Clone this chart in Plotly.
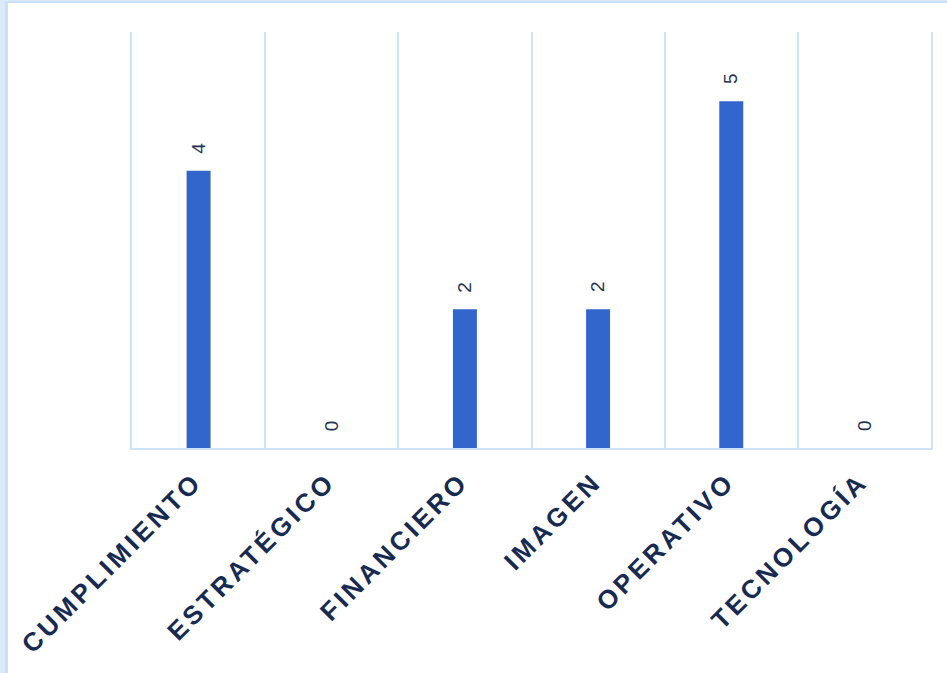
import plotly.graph_objects as go

categories = ["CUMPLIMIENTO", "ESTRATÉGICO", "FINANCIERO", "IMAGEN", "OPERATIVO", "TECNOLOGÍA"]
values = [4, 0, 2, 2, 5, 0]
value_labels = ["4", "0", "2", "2", "5", "0"]

W, H = 947, 673
L, R, T, B = 132, 16, 32, 225
pw, ph = W - L - R, H - T - B

def px(x):
    return (x - L) / pw

def py(y):
    return (H - B - y) / ph

tick_text = ['<span style="letter-spacing:3.5px">%s</span>' % c for c in categories]

fig = go.Figure()
fig.add_trace(go.Bar(
    x=categories,
    y=values,
    marker=dict(color="#3366CC", line=dict(width=0)),
    cliponaxis=False,
    hoverinfo="skip",
))

for c, v, t in zip(categories, values, value_labels):
    fig.add_annotation(
        x=c, y=v, xref="x", yref="y",
        text=t, showarrow=False, textangle=-90,
        yanchor="bottom", xanchor="center", yshift=15,
        font=dict(family="Liberation Sans, Arial", size=19, color="#253352"),
    )

grid_col = "#CCE3F8"
fig.update_layout(
    width=W, height=H,
    margin=dict(l=L, r=R, t=T, b=B, autoexpand=False),
    paper_bgcolor="white",
    plot_bgcolor="white",
    bargap=0.82,
    showlegend=False,
    font=dict(family="Liberation Sans, Arial"),
    xaxis=dict(
        type="category",
        tickson="boundaries",
        showgrid=True, gridcolor=grid_col, gridwidth=2,
        showline=True, linecolor=grid_col, linewidth=2,
        ticks="outside", ticklen=23, tickcolor="rgba(0,0,0,0)",
        ticklabelstandoff=6, ticklabelshift=-4,
        tickangle=-45,
        tickmode="array", tickvals=categories, ticktext=tick_text,
        tickfont=dict(family="Liberation Sans, Arial", size=26, color="#172A52", weight="bold"),
        range=[-0.5, 5.5],
    ),
    yaxis=dict(
        range=[0, 6],
        showgrid=False, zeroline=False,
        showticklabels=False,
        showline=True, mirror=True, linecolor=grid_col, linewidth=2,
    ),
    shapes=[
        dict(type="rect", xref="paper", yref="paper", x0=px(0), x1=px(5), y0=py(H), y1=py(0),
             fillcolor="#DCE9F9", line=dict(width=0), layer="below"),
        dict(type="rect", xref="paper", yref="paper", x0=px(5), x1=px(8), y0=py(H), y1=py(1),
             fillcolor="#C9E0F8", line=dict(width=0), layer="below"),
        dict(type="rect", xref="paper", yref="paper", x0=px(5), x1=px(W), y0=py(1), y1=py(0),
             fillcolor="#DCE9F9", line=dict(width=0), layer="below"),
        dict(type="rect", xref="paper", yref="paper", x0=px(5), x1=px(W), y0=py(3), y1=py(1),
             fillcolor="#C9E0F8", line=dict(width=0), layer="below"),
    ],
)

fig.write_html(
    "out.html",
    config={"displayModeBar": False},
    post_script="document.body.style.margin='0';document.body.style.overflow='hidden';",
)
